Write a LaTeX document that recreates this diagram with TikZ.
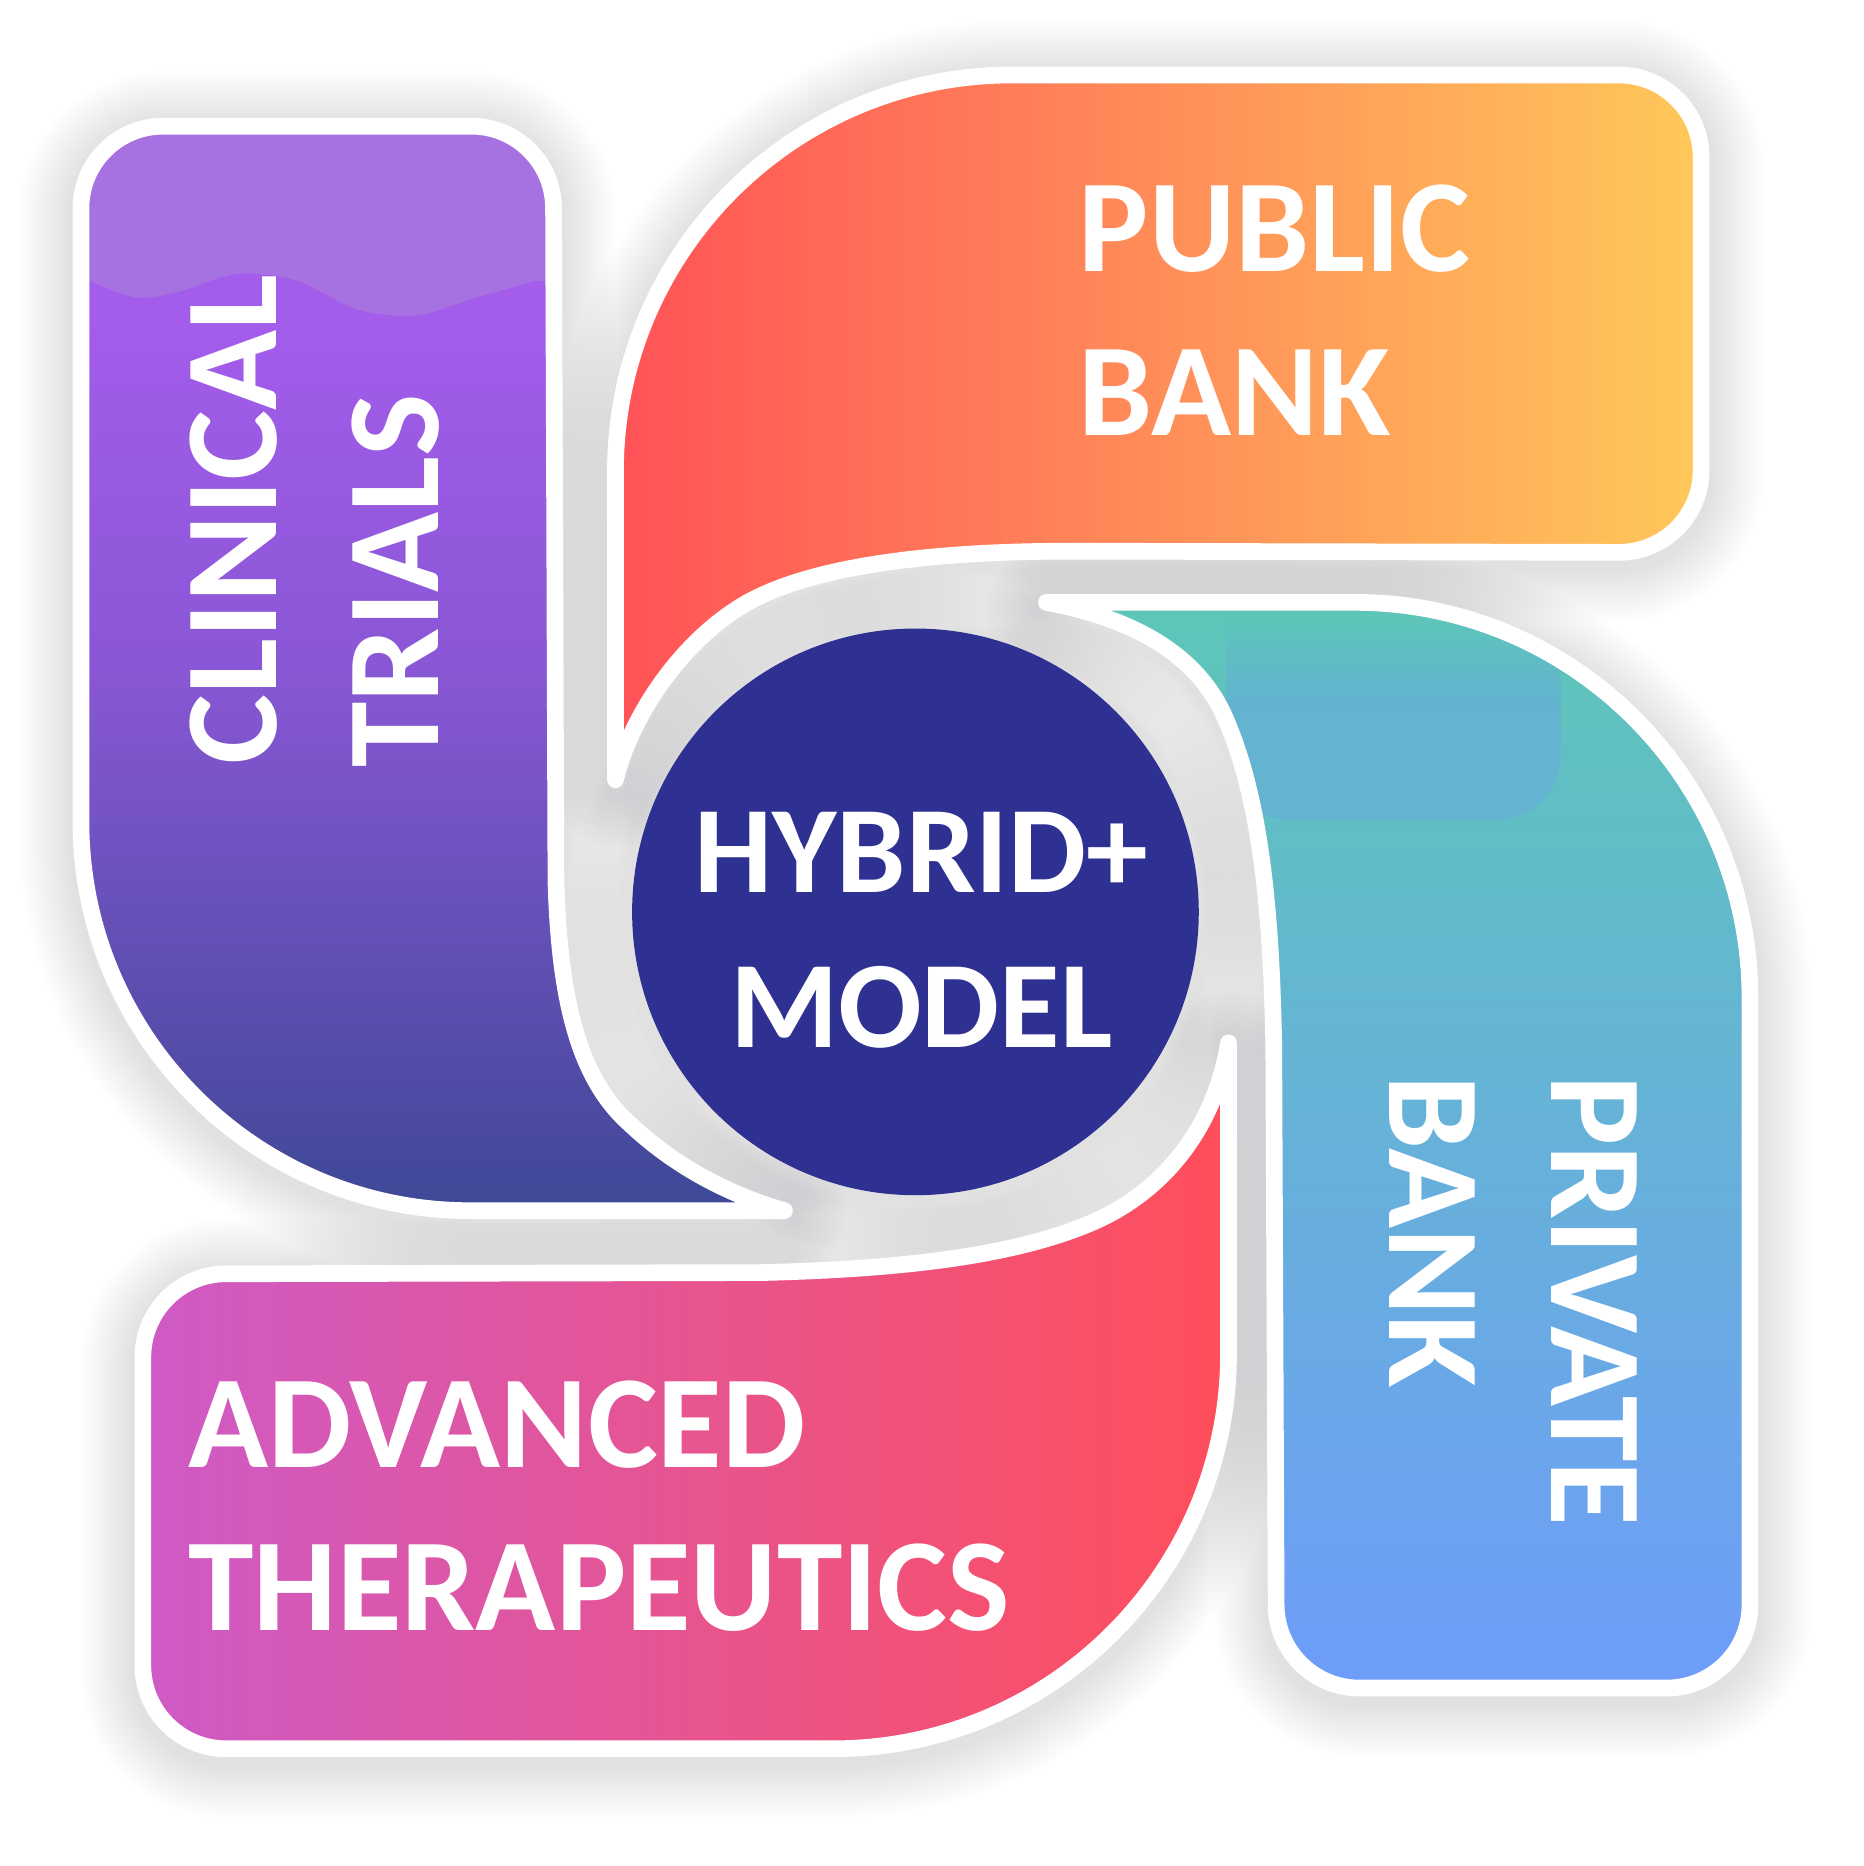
\documentclass[tikz,border=0pt]{standalone}
\usepackage{fontspec}
\setmainfont{Carlito}
\usetikzlibrary{fadings}
\definecolor{ptop}{HTML}{A45CEB}
\definecolor{pmid}{HTML}{8957D5}
\definecolor{pbot}{HTML}{3E4896}
\definecolor{ppatch}{HTML}{A672E1}
\definecolor{oleft}{HTML}{FF5257}
\definecolor{oright}{HTML}{FFC85A}
\definecolor{ttop}{HTML}{5EC6B8}
\definecolor{tbot}{HTML}{6E9CFA}
\definecolor{tpatch}{HTML}{63B3D1}
\definecolor{kleft}{HTML}{CE5AC6}
\definecolor{kright}{HTML}{FF4E5A}
\definecolor{circ}{HTML}{2E3192}
\definecolor{shc}{HTML}{28285A}
\pgfdeclareverticalshading{purpleshade}{100bp}{color(0bp)=(pbot); color(25bp)=(pbot); color(50bp)=(pmid); color(66bp)=(ptop); color(100bp)=(ptop)}

\newcommand\purplepath{(68,690) -- (68,175) arc[start angle=180,end angle=270,radius=69] -- (396,106) arc[start angle=270,end angle=360,radius=69] -- (467,740) .. controls (470,850) and (490,910) .. (530,945) .. controls (565,978) and (610,1003) .. (659,1017) -- (395,1017) arc[start angle=90,end angle=180,radius=327] -- cycle}
\newcommand\orangepath{(517,655) -- (517,396) arc[start angle=180,end angle=270,radius=333] -- (1360,63) arc[start angle=270,end angle=360,radius=69] -- (1429,395) arc[start angle=0,end angle=90,radius=69] -- (900,463) .. controls (770,463) and (680,478) .. (630,505) .. controls (575,535) and (530,600) .. (517,655) -- cycle}
\newcommand\tealpath{(879,506) -- (1138,506) arc[start angle=270,end angle=360,radius=332] -- (1470,1348) arc[start angle=0,end angle=90,radius=70] -- (1142,1418) arc[start angle=90,end angle=180,radius=70] -- (1070,880) .. controls (1068,760) and (1058,670) .. (1030,605) .. controls (1008,552) and (955,520) .. (879,506) -- cycle}
\newcommand\pinkpath{(1032,876) -- (1032,1137) arc[start angle=0,end angle=90,radius=332] -- (190,1469) arc[start angle=90,end angle=180,radius=70] -- (120,1140) arc[start angle=180,end angle=270,radius=70] -- (640,1069) .. controls (760,1066) and (850,1055) .. (915,1028) .. controls (975,1003) and (1020,950) .. (1032,876) -- cycle}

\begin{document}
\begin{tikzpicture}[x=1pt,y=-1pt,
  glow/.style={draw=shc,line width=#1,draw opacity=0.009,line join=round},
  band/.style={draw=white,line width=14pt,line join=round},
  lbl/.style={text=white,inner sep=0pt,font=\fontsize{111}{120}\selectfont\bfseries},
  hub/.style={text=white,inner sep=0pt,font=\fontsize{104}{110}\selectfont\bfseries}]
\fill[white] (0,0) rectangle (1565,1567.5);
\useasboundingbox (0,0) rectangle (1565,1567.5);

% soft shadows
\begin{scope}[yshift=-6pt]
\foreach \w in {104,98,...,20}{
  \path[glow=\w] \purplepath;
  \path[glow=\w] \orangepath;
  \path[glow=\w] \tealpath;
  \path[glow=\w] \pinkpath;
  \path[glow=\w] (769,766) circle[radius=238];
}
\end{scope}

% clinical trials
\path[shade,shading=purpleshade] \purplepath;
\begin{scope}
\clip \purplepath;
\fill[ppatch] (60,90) -- (475,90) -- (475,236) -- plot[smooth] coordinates {(450,236) (400,250) (350,265) (300,260) (250,236) (200,230) (150,245) (115,250) (75,236)} -- (60,236) -- cycle;
\end{scope}
\path[band] \purplepath;

% public bank
\path[band,left color=oleft,right color=oright] \orangepath;

% private bank
\path[top color=ttop,bottom color=tbot] \tealpath;
\begin{scope}
\clip \tealpath;
\fill[tpatch] (1030,596) -- (1311,596) -- (1311,634) arc[start angle=0,end angle=90,radius=55] -- (1085,689) arc[start angle=90,end angle=180,radius=55] -- cycle;
\fill[tpatch,path fading=north] (1030,520) rectangle (1311,597);
\end{scope}
\path[band] \tealpath;

% advanced therapeutics
\path[band,left color=kleft,right color=kright] \pinkpath;

% hub
\node[circle,fill=circ,minimum size=476pt,inner sep=0pt] (core) at (769,766) {};
\node[hub,anchor=base] (hyb) at (774,750) {HYBRID+};
\node[hub,anchor=base] (mod) at (774,880) {MODEL};

% labels
\node[lbl,rotate=90,anchor=base west] (clin) at (232,642) {CLINICAL};
\node[lbl,rotate=90,anchor=base west] (tri) at (368,645) {TRIALS};
\node[lbl,anchor=base west] (pub) at (906,228) {PUBLIC};
\node[lbl,anchor=base west] (pbank) at (906,366) {BANK};
\node[lbl,rotate=-90,anchor=base west] (priv) at (1303,903) {PRIVATE};
\node[lbl,rotate=-90,anchor=base west] (prbank) at (1167,903) {BANK};
\node[lbl,anchor=base west] (adv) at (158,1233) {ADVANCED};
\node[lbl,anchor=base west] (ther) at (158,1370) {THERAPEUTICS};
\end{tikzpicture}
\end{document}
